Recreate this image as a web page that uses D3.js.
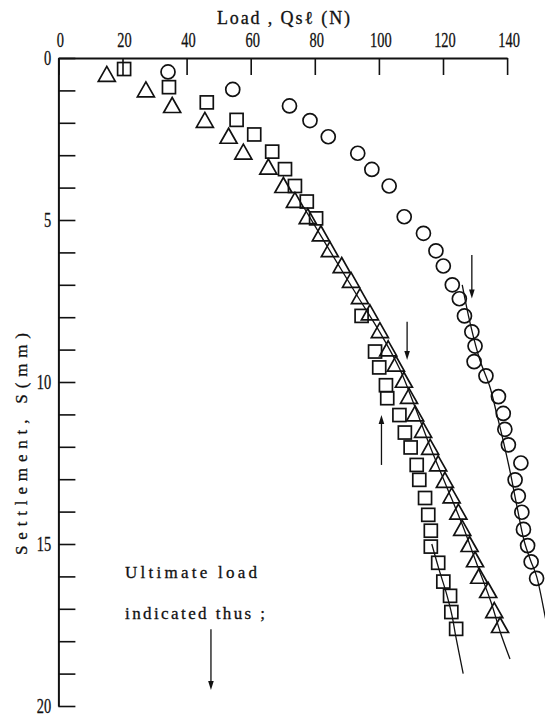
<!DOCTYPE html>
<html>
<head>
<meta charset="utf-8">
<script src="https://cdn.jsdelivr.net/npm/d3@7"></script>
<style>
body { margin: 0; background: #fff; }
text { font-family: "Liberation Serif", "DejaVu Serif", serif; fill: #111; }
</style>
</head>
<body>
<div class="svg-container"></div>
<script>
// load (N) and settlement (mm)
var circleLoad   = [34.2, 54.4, 72.1, 78.5, 84.2, 93.4, 97.8, 103.2, 107.9, 113.9, 117.8, 120.1, 122.9, 125.1, 126.7, 129.0, 130.0, 129.7, 133.4, 137.3, 138.8, 139.3, 140.4, 144.3, 142.5, 143.5, 144.6, 145.1, 146.4, 147.5, 149.2];
var circleSettle = [0.43, 0.97, 1.48, 1.93, 2.43, 2.94, 3.44, 3.95, 4.9, 5.41, 5.95, 6.42, 7.0, 7.43, 7.96, 8.45, 8.89, 9.37, 9.81, 10.45, 10.97, 11.46, 11.94, 12.5, 13.02, 13.52, 14.02, 14.55, 15.05, 15.55, 16.06];

var squareLoad   = [20.5, 34.5, 46.3, 55.6, 61.1, 66.7, 70.7, 73.8, 77.5, 80.4, 94.6, 98.8, 100.1, 102.2, 102.6, 106.4, 108.1, 109.9, 111.8, 112.6, 114.4, 115.4, 116.2, 116.2, 118.5, 120.1, 122.2, 122.6, 124.1];
var squareSettle = [0.34, 0.9, 1.37, 1.91, 2.36, 2.89, 3.43, 3.95, 4.43, 4.95, 7.96, 9.06, 9.55, 10.1, 10.5, 11.02, 11.56, 12.02, 12.56, 13.02, 13.58, 14.1, 14.59, 15.08, 15.58, 16.16, 16.6, 17.1, 17.62];

var triangleLoad   = [15.1, 27.3, 35.5, 45.7, 53.1, 57.7, 65.5, 70.2, 73.8, 77.8, 81.9, 84.7, 88.4, 91.3, 94.1, 97.2, 100.3, 102.9, 105.3, 107.8, 109.4, 111.3, 113.8, 116.0, 118.5, 120.6, 122.7, 124.8, 126.0, 128.3, 130.0, 131.3, 134.1, 136.0, 137.8];
var triangleSettle = [0.49, 0.97, 1.45, 1.91, 2.4, 2.89, 3.35, 3.92, 4.38, 4.88, 5.41, 5.9, 6.39, 6.85, 7.35, 7.85, 8.4, 8.96, 9.43, 9.93, 10.43, 10.97, 11.48, 12.0, 12.51, 13.02, 13.5, 14.0, 14.5, 15.0, 15.47, 15.98, 16.42, 17.04, 17.5];

// hand drawn curves
var circleFitLoad   = [126.0, 128.5, 131.5, 134.6, 136.8, 139.0, 141.0, 143.0, 145.3, 147.3, 149.2, 152.0, 153.2];
var circleFitSettle = [7.0, 8.2, 9.32, 10.14, 11.0, 11.9, 12.8, 13.8, 14.9, 15.5, 16.0, 17.3, 17.9];
var squareFitLoad   = [116.5, 118.8, 121.0, 122.8, 124.0, 126.3];
var squareFitSettle = [15.0, 15.8, 16.5, 17.2, 17.86, 19.0];
var triangleFitLoad   = [76.5, 85.0, 93.0, 100.5, 106.5, 111.0, 116.0, 121.0, 126.0, 130.5, 135.0, 137.8, 140.9];
var triangleFitSettle = [4.6, 6.0, 7.3, 8.5, 9.6, 10.7, 12.0, 13.2, 14.4, 15.6, 16.8, 17.7, 18.55];

// ultimate load arrows
var arrowLoad = [129.0, 108.8, 100.8, 47.6];
var arrowFrom = [6.08, 8.14, 12.56, 17.63];
var arrowTo   = [7.42, 9.32, 11.02, 19.51];

var xTicks = [0, 20, 40, 60, 80, 100, 120, 140];
var yTicks = [0, 1, 2, 3, 4, 5, 6, 7, 8, 9, 10, 11, 12, 13, 14, 15, 16, 17, 18, 19, 20];
var yLabels = [0, 5, 10, 15, 20];

var svg = d3.select(".svg-container").append("svg")
    .attr("width", 545)
    .attr("height", 720);

svg.append("rect").attr("width", 545).attr("height", 720).attr("fill", "#fff");

var x = d3.scaleLinear().domain([0, 140]).range([58.4, 507.1]);
var y = d3.scaleLinear().domain([0, 20]).range([58, 706]);

// top axis
var gx = svg.append("g")
    .attr("transform", "translate(0," + y(0) + ")")
    .call(d3.axisTop(x).tickValues(xTicks).tickSize(-17).tickSizeOuter(0).tickPadding(11));

// left axis
var gy = svg.append("g")
    .attr("transform", "translate(" + x(0) + ",0)")
    .call(d3.axisLeft(y).tickValues(yTicks).tickSize(-17).tickSizeOuter(0).tickPadding(10)
        .tickFormat(function(d) { return yLabels.indexOf(d) >= 0 ? d : ""; }));

[gx, gy].forEach(function(g) {
    g.select(".domain").attr("stroke", "#111").attr("stroke-width", 2);
    g.selectAll(".tick line").attr("stroke", "#111").attr("stroke-width", 1.6);
    g.selectAll(".tick text")
        .attr("font-size", 20)
        .attr("font-family", "Liberation Serif, serif")
        .attr("fill", "#111")
        .attr("stroke", "#111")
        .attr("stroke-width", 0.3)
        .attr("transform", "scale(0.72,1)");
});
gx.selectAll(".tick text").attr("x", 2);

// axis titles
svg.append("text")
    .attr("x", 217)
    .attr("y", 24)
    .attr("font-size", 18)
    .attr("stroke", "#111").attr("stroke-width", 0.3)
    .attr("textLength", 133)
    .attr("lengthAdjust", "spacing")
    .text("Load , Qs\u2113 (N)");

svg.append("text")
    .attr("transform", "translate(27,444) rotate(-90)")
    .attr("text-anchor", "middle")
    .attr("font-size", 17)
    .attr("stroke", "#111").attr("stroke-width", 0.3)
    .attr("textLength", 222)
    .attr("lengthAdjust", "spacing")
    .text("Settlement,  S(mm)");

// legend note
svg.append("text")
    .attr("x", 125).attr("y", 578)
    .attr("font-size", 17)
    .attr("stroke", "#111").attr("stroke-width", 0.3)
    .attr("textLength", 132)
    .attr("lengthAdjust", "spacing")
    .text("Ultimate  load");

svg.append("text")
    .attr("x", 125).attr("y", 619)
    .attr("font-size", 17)
    .attr("stroke", "#111").attr("stroke-width", 0.3)
    .attr("textLength", 140)
    .attr("lengthAdjust", "spacing")
    .text("indicated  thus ;");

// fitted curves
var line = d3.line()
    .x(function(d) { return x(d[0]); })
    .y(function(d) { return y(d[1]); })
    .curve(d3.curveCatmullRom);

[[circleFitLoad, circleFitSettle], [squareFitLoad, squareFitSettle], [triangleFitLoad, triangleFitSettle]].forEach(function(s) {
    svg.append("path")
        .datum(d3.zip(s[0], s[1]))
        .attr("d", line)
        .attr("fill", "none")
        .attr("stroke", "#111")
        .attr("stroke-width", 1.3);
});

// squares
svg.selectAll(".sq")
    .data(d3.zip(squareLoad, squareSettle))
    .enter().append("rect")
    .attr("class", "sq")
    .attr("x", function(d) { return x(d[0]) - 6.5; })
    .attr("y", function(d) { return y(d[1]) - 6.5; })
    .attr("width", 13)
    .attr("height", 13)
    .attr("fill", "none")
    .attr("stroke", "#111")
    .attr("stroke-width", 1.7);

// triangles
svg.selectAll(".tri")
    .data(d3.zip(triangleLoad, triangleSettle))
    .enter().append("path")
    .attr("class", "tri")
    .attr("d", function(d) {
        var cx = x(d[0]), cy = y(d[1]);
        return "M" + cx + "," + (cy - 7.5) + "L" + (cx + 8.5) + "," + (cy + 7.5) + "L" + (cx - 8.5) + "," + (cy + 7.5) + "Z";
    })
    .attr("fill", "none")
    .attr("stroke", "#111")
    .attr("stroke-width", 1.7)
    .attr("stroke-linejoin", "miter");

// circles
svg.selectAll(".circ")
    .data(d3.zip(circleLoad, circleSettle))
    .enter().append("circle")
    .attr("class", "circ")
    .attr("cx", function(d) { return x(d[0]); })
    .attr("cy", function(d) { return y(d[1]); })
    .attr("r", 7)
    .attr("fill", "none")
    .attr("stroke", "#111")
    .attr("stroke-width", 1.7);

// arrows
arrowLoad.forEach(function(v, i) {
    var ax = x(v), y0 = y(arrowFrom[i]), y1 = y(arrowTo[i]);
    var dir = y1 > y0 ? 1 : -1;
    svg.append("line")
        .attr("x1", ax).attr("x2", ax)
        .attr("y1", y0).attr("y2", y1 - dir * 5)
        .attr("stroke", "#111")
        .attr("stroke-width", 1.3);
    svg.append("path")
        .attr("d", "M" + ax + "," + y1 + "L" + (ax - 2.8) + "," + (y1 - dir * 9) + "L" + (ax + 2.8) + "," + (y1 - dir * 9) + "Z")
        .attr("fill", "#111");
});
</script>
</body>
</html>
